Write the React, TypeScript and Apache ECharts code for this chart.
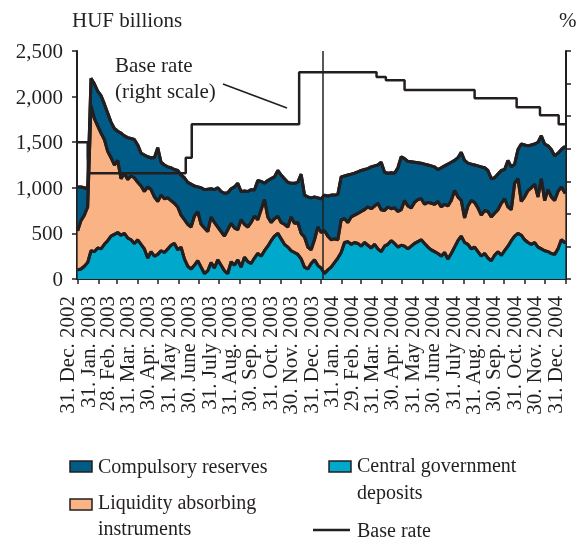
import React, { useEffect, useRef } from "react";
import * as echarts from "echarts";

// ---------- data ----------
const START_DATE = "2002-12-31";
const END_DATE = "2004-12-31";
const SAMPLE_STEP_DAYS = 5; // one reading every 5 days, plus the final day

const MONTH_NAMES = ["Jan.", "Feb.", "Mar.", "Apr.", "May", "June", "July", "Aug.", "Sep.", "Oct.", "Nov.", "Dec."];

// Central government deposits (HUF bn)
const CGD = [
  100, 110, 140, 180, 310, 300, 340, 330, 380, 420,
  470, 490, 510, 480, 500, 450, 430, 390, 430, 380,
  330, 230, 300, 250, 270, 310, 290, 330, 370, 390,
  320, 350, 220, 140, 110, 150, 200, 130, 60, 90,
  180, 120, 210, 150, 90, 60, 190, 150, 210, 130,
  240, 190, 170, 230, 280, 250, 310, 360, 420, 470,
  500, 440, 380, 350, 310, 290, 270, 220, 130, 110,
  170, 210, 150, 120, 60, 100, 130, 180, 230, 290,
  400, 410, 380, 400, 390, 360, 400, 370, 340, 380,
  330, 300, 360, 380, 420, 390, 350, 370, 360, 330,
  360, 390, 410, 430, 390, 350, 320, 300, 280, 250,
  290, 220, 280, 350, 420, 470, 400, 380, 330, 350,
  300, 250, 280, 230, 200, 260, 300, 260, 310, 360,
  420, 470, 500, 480, 430, 400, 380, 400, 350, 330,
  310, 300, 280, 270, 330, 430, 400, 390,
];

// Liquidity absorbing instruments (HUF bn)
const LIQ = [
  430, 530, 560, 610, 1590, 1460, 1340, 1270, 1150, 980,
  860, 760, 790, 620, 660, 640, 700, 720, 630, 640,
  630, 780, 680, 650, 580, 610, 590, 560, 490, 440,
  470, 350, 430, 460, 460, 540, 540, 470, 500, 430,
  500, 500, 360, 370, 380, 480, 420, 410, 330, 520,
  360, 380, 450, 460, 370, 510, 560, 320, 200, 190,
  190, 180, 220, 220, 370, 320, 350, 280, 330, 240,
  150, 220, 420, 390, 470, 370, 300, 260, 200, 360,
  260, 210, 300, 300, 330, 380, 360, 420, 430, 420,
  500, 460, 390, 410, 350, 390, 390, 390, 500, 470,
  420, 450, 460, 450, 430, 490, 510, 520, 570, 540,
  530, 580, 580, 620, 480, 390, 270, 420, 530, 490,
  480, 450, 470, 510, 480, 460, 460, 570, 570, 430,
  340, 580, 600, 370, 470, 570, 620, 640, 550, 770,
  550, 680, 620, 590, 630, 580, 550, 550,
];

// Compulsory reserves (HUF bn)
const CR = [
  480, 370, 300, 200, 300, 380, 380, 410, 390, 420,
  390, 400, 320, 500, 410, 460, 410, 420, 410, 360,
  400, 330, 350, 430, 590, 360, 370, 340, 360, 370,
  400, 440, 460, 460, 470, 330, 270, 400, 420, 465,
  310, 360, 430, 440, 470, 405, 380, 450, 510, 310,
  365, 390, 360, 285, 430, 310, 180, 400, 480, 460,
  500, 520, 500, 490, 370, 440, 440, 650, 460, 550,
  570, 470, 320, 370, 390, 440, 490, 480, 500, 470,
  470, 520, 470, 460, 455, 450, 440, 420, 460, 440,
  420, 520, 420, 370, 395, 380, 480, 580, 460, 490,
  505, 440, 405, 390, 440, 410, 410, 410, 350, 430,
  420, 460, 420, 330, 430, 530, 630, 470, 400, 410,
  460, 530, 470, 450, 420, 390, 390, 360, 320, 510,
  470, 210, 320, 630, 570, 490, 470, 440, 600, 470,
  620, 480, 520, 490, 420, 410, 500, 500,
];

// Base rate (%), value in force from each date
const RATE_DATES = [
  "2002-12-31", "2003-01-15", "2003-01-16", "2003-06-11", "2003-06-20", "2003-11-28",
  "2004-03-23", "2004-04-06", "2004-05-04", "2004-08-17", "2004-10-19", "2004-11-23",
  "2004-12-21", "2004-12-31",
];
const RATE_VALUES = [8.4, 7.5, 6.5, 7.45, 9.5, 12.7, 12.4, 12.2, 11.6, 11.1, 10.55, 10.05, 9.5, 9.5];

const MARK_DATE = "2004-01-03";

// ---------- helpers ----------
const DAY_MS = 86400000;
const toStr = (t: number) => new Date(t).toISOString().slice(0, 10);
const startMs = Date.parse(START_DATE + "T00:00:00Z");
const endMs = Date.parse(END_DATE + "T00:00:00Z");
const NUM_DAYS = Math.round((endMs - startMs) / DAY_MS);

// axis days: one hidden padding day on each side so that the first/last real
// month-end labels are not treated as min/max labels by the overlap check
const axisStartMs = startMs - DAY_MS;
const CATEGORIES: string[] = [];
for (let i = 0; i <= NUM_DAYS + 2; i++) CATEGORIES.push(toStr(axisStartMs + i * DAY_MS));
const LAST_IDX = CATEGORIES.length - 1;

const SAMPLE_DATES: string[] = [];
for (let i = 0; i <= NUM_DAYS; i += SAMPLE_STEP_DAYS) SAMPLE_DATES.push(toStr(startMs + i * DAY_MS));
if (SAMPLE_DATES[SAMPLE_DATES.length - 1] !== END_DATE) SAMPLE_DATES.push(END_DATE);

const isMonthEnd = (idx: number) => {
  const d = new Date(axisStartMs + idx * DAY_MS);
  const n = new Date(axisStartMs + (idx + 1) * DAY_MS);
  return d.getUTCMonth() !== n.getUTCMonth();
};
const showAt = (idx: number) => idx === 0 || idx === LAST_IDX || isMonthEnd(idx);
const fmtLabel = (v: string, idx: number) => {
  if (idx === 0 || idx === LAST_IDX) return "";
  const [y, m, d] = v.split("-");
  return `${parseInt(d, 10)}. ${MONTH_NAMES[parseInt(m, 10) - 1]} ${y}`;
};

const pairs = (arr: number[]) => SAMPLE_DATES.map((d, i) => [d, arr[i]]);

const FONT = "'Liberation Serif', 'Times New Roman', serif";
const INK = "#231f20";
const C_CR = "#005b86";
const C_LIQ = "#f9b384";
const C_CGD = "#00a8cc";

export default function App() {
  const ref = useRef<HTMLDivElement>(null);
  useEffect(() => {
    if (!ref.current) return;
    const chart = echarts.init(ref.current, null, { renderer: "svg" });
    const areaSeries = (name: string, arr: number[], color: string) => ({
      name,
      type: "line",
      stack: "area",
      data: pairs(arr),
      symbol: "none",
      showSymbol: false,
      lineStyle: { width: 3, color: INK },
      areaStyle: { color, opacity: 1 },
      z: 2,
      silent: true,
    });
    const edgeSeries = (name: string, arr: number[]) => ({
      name: name + " edge",
      type: "line",
      stack: "edge",
      data: pairs(arr),
      symbol: "none",
      showSymbol: false,
      lineStyle: { width: 3, color: INK },
      z: 10,
      silent: true,
    });
    const legendText = (text: string, x: number, y: number) => ({
      type: "text",
      x,
      y,
      style: { text, fill: INK, font: `20px ${FONT}`, textAlign: "left", textVerticalAlign: "middle", align: "left", verticalAlign: "middle" },
    });
    const swatch = (x: number, y: number, color: string) => ({
      type: "rect",
      shape: { x, y, width: 22, height: 11 },
      style: { fill: color, stroke: INK, lineWidth: 1.5 },
    });
    chart.setOption({
      animation: false,
      textStyle: { fontFamily: FONT, color: INK },
      grid: { left: 77, right: 12, top: 51, bottom: 261, containLabel: false, outerBoundsMode: "none" },
      xAxis: {
        type: "category",
        data: CATEGORIES,
        boundaryGap: false,
        axisLine: { lineStyle: { color: INK, width: 2 } },
        axisTick: { interval: (i: number) => showAt(i), length: 5, lineStyle: { color: INK, width: 1.5 } },
        axisLabel: {
          interval: (i: number) => showAt(i),
          showMinLabel: false,
          showMaxLabel: false,
          hideOverlap: false,
          rotate: 90,
          margin: 17,
          fontSize: 21,
          fontFamily: FONT,
          color: INK,
          verticalAlign: "bottom",
          formatter: (v: string, idx: number) => fmtLabel(v, idx),
        },
        splitLine: { show: false },
      },
      yAxis: [
        {
          type: "value",
          min: 0,
          max: 2500,
          interval: 500,
          axisLine: { show: true, lineStyle: { color: INK, width: 2 } },
          axisTick: { show: true, length: 5, lineStyle: { color: INK, width: 1.5 } },
          axisLabel: {
            fontSize: 21,
            fontFamily: FONT,
            color: INK,
            margin: 14,
            formatter: (v: number) => v.toLocaleString("en-US"),
          },
          splitLine: { show: false },
        },
        {
          type: "value",
          position: "right",
          min: 0,
          max: 14,
          interval: 2,
          axisLine: { show: true, lineStyle: { color: INK, width: 2 } },
          axisTick: { show: true, length: 5, lineStyle: { color: INK, width: 1.5 } },
          axisLabel: { show: false },
          splitLine: { show: false },
        },
      ],
      series: [
        areaSeries("Central government deposits", CGD, C_CGD),
        areaSeries("Liquidity absorbing instruments", LIQ, C_LIQ),
        areaSeries("Compulsory reserves", CR, C_CR),
        edgeSeries("Central government deposits", CGD),
        edgeSeries("Liquidity absorbing instruments", LIQ),
        edgeSeries("Compulsory reserves", CR),
        {
          name: "Base rate",
          type: "line",
          yAxisIndex: 1,
          step: "end",
          data: RATE_DATES.map((d, i) => [d, RATE_VALUES[i]]),
          symbol: "none",
          showSymbol: false,
          lineStyle: { width: 2.5, color: INK },
          z: 12,
          silent: true,
          markLine: {
            silent: true,
            symbol: "none",
            label: { show: false },
            lineStyle: { color: INK, width: 1.5, type: "solid" },
            data: [{ xAxis: MARK_DATE }],
          },
        },
      ],
      graphic: [
        {
          type: "text",
          x: 72,
          y: 20,
          style: { text: "HUF billions", fill: INK, font: `21px ${FONT}`, textAlign: "left", textVerticalAlign: "middle", align: "left", verticalAlign: "middle" },
        },
        {
          type: "text",
          x: 559,
          y: 20,
          style: { text: "%", fill: INK, font: `21px ${FONT}`, textAlign: "left", textVerticalAlign: "middle", align: "left", verticalAlign: "middle" },
        },
        {
          type: "text",
          x: 115,
          y: 65,
          style: { text: "Base rate", fill: INK, font: `21px ${FONT}`, textAlign: "left", textVerticalAlign: "middle", align: "left", verticalAlign: "middle" },
        },
        {
          type: "text",
          x: 115,
          y: 91,
          style: { text: "(right scale)", fill: INK, font: `21px ${FONT}`, textAlign: "left", textVerticalAlign: "middle", align: "left", verticalAlign: "middle" },
        },
        {
          type: "line",
          shape: { x1: 223, y1: 84, x2: 287, y2: 108 },
          style: { stroke: INK, lineWidth: 1.5 },
        },
        swatch(70, 461, C_CR),
        legendText("Compulsory reserves", 98, 466),
        swatch(70, 499, C_LIQ),
        legendText("Liquidity absorbing", 98, 502),
        legendText("instruments", 98, 528),
        swatch(329, 461, C_CGD),
        legendText("Central government", 357, 465),
        legendText("deposits", 357, 492),
        {
          type: "line",
          shape: { x1: 313, y1: 530, x2: 350, y2: 530 },
          style: { stroke: INK, lineWidth: 2.5 },
        },
        legendText("Base rate", 357, 530),
      ],
    });
    return () => chart.dispose();
  }, []);
  return <div ref={ref} style={{ position: "fixed", left: 0, top: 0, width: 578, height: 540 }} />;
}
